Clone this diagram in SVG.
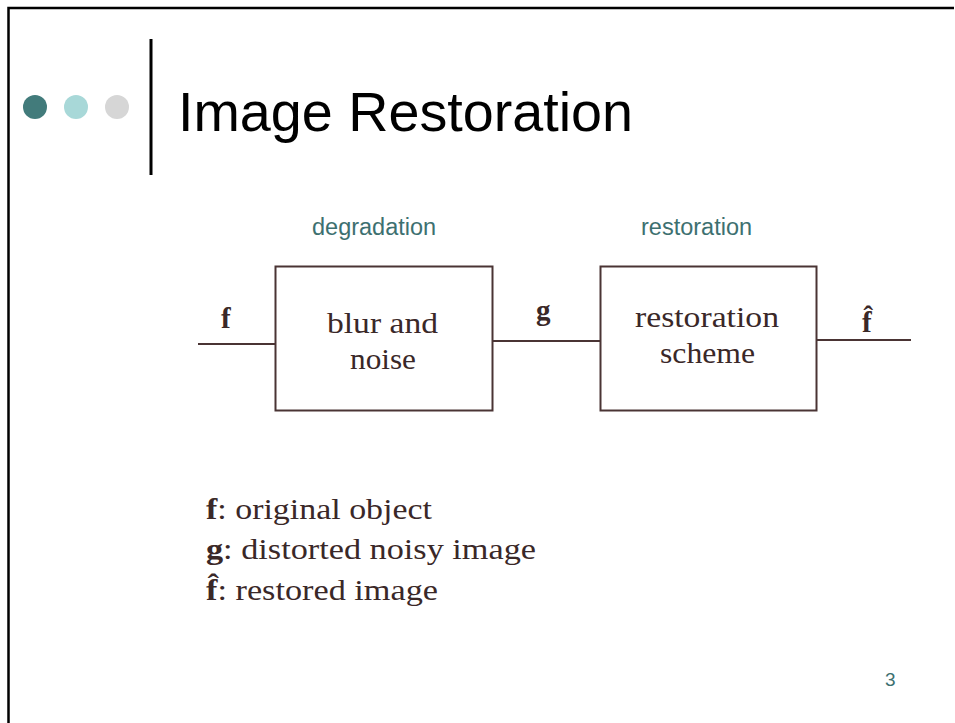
<svg xmlns="http://www.w3.org/2000/svg" width="955" height="723" viewBox="0 0 955 723">
<style>
.frame{fill:none;stroke:#000;stroke-width:2.5}
.box{fill:none;stroke:#4a3434;stroke-width:2}
.wire{fill:none;stroke:#4a3434;stroke-width:2}
.cm{font-family:"Liberation Serif","DejaVu Serif",serif;font-size:29px;fill:#3a2828}
.cmb{font-family:"Liberation Serif","DejaVu Serif",serif;font-size:29px;font-weight:bold;fill:#3a2828}
.teal{font-family:"Liberation Sans",Arial,sans-serif;font-size:23.5px;fill:#3d7070}
.title{font-family:"Liberation Sans",Arial,sans-serif;font-size:55.7px;fill:#000}
</style>
<rect width="955" height="723" fill="#fff"/>
<path class="frame" d="M8.5,730 V8 H954"/>
<g id="header">
<circle cx="35" cy="107" r="12" fill="#427b7b"/>
<circle cx="76" cy="107" r="12" fill="#a8d8d8"/>
<circle cx="117" cy="107" r="12" fill="#d6d6d6"/>
<rect x="149.5" y="39" width="3" height="136" fill="#000"/>
<text class="title" x="178" y="131">Image Restoration</text>
</g>
<g id="label-degradation"><text class="teal" x="312" y="235">degradation</text></g>
<g id="label-restoration"><text class="teal" x="641" y="235">restoration</text></g>
<g id="node-blur">
<rect class="box" x="275.5" y="266.5" width="217" height="144"/>
<text class="cm" x="327" y="333" textLength="111" lengthAdjust="spacingAndGlyphs">blur and</text>
<text class="cm" x="350" y="369" textLength="66" lengthAdjust="spacingAndGlyphs">noise</text>
</g>
<g id="node-restoration">
<rect class="box" x="600.5" y="266.5" width="216" height="144"/>
<text class="cm" x="635" y="327" textLength="144" lengthAdjust="spacingAndGlyphs">restoration</text>
<text class="cm" x="660" y="363" textLength="95" lengthAdjust="spacingAndGlyphs">scheme</text>
</g>
<g id="connectors">
<line class="wire" x1="198" y1="344" x2="275.5" y2="344"/>
<line class="wire" x1="492.5" y1="341" x2="600.5" y2="341"/>
<line class="wire" x1="816.5" y1="340" x2="911" y2="340"/>
<text class="cmb" x="221" y="328">f</text>
<text class="cmb" x="536" y="320">g</text>
<text class="cmb" x="862" y="332">f&#x302;</text>
</g>
<g id="legend">
<text class="cm" x="206" y="519" textLength="226" lengthAdjust="spacingAndGlyphs"><tspan class="cmb">f</tspan>: original object</text>
<text class="cm" x="206" y="559" textLength="330" lengthAdjust="spacingAndGlyphs"><tspan class="cmb">g</tspan>: distorted noisy image</text>
<text class="cm" x="206" y="600" textLength="232" lengthAdjust="spacingAndGlyphs"><tspan class="cmb">f&#x302;</tspan>: restored image</text>
</g>
<g id="page-number"><text x="885" y="686" style="font-family:'Liberation Sans',Arial,sans-serif;font-size:19px;fill:#3d7070">3</text></g>
</svg>
